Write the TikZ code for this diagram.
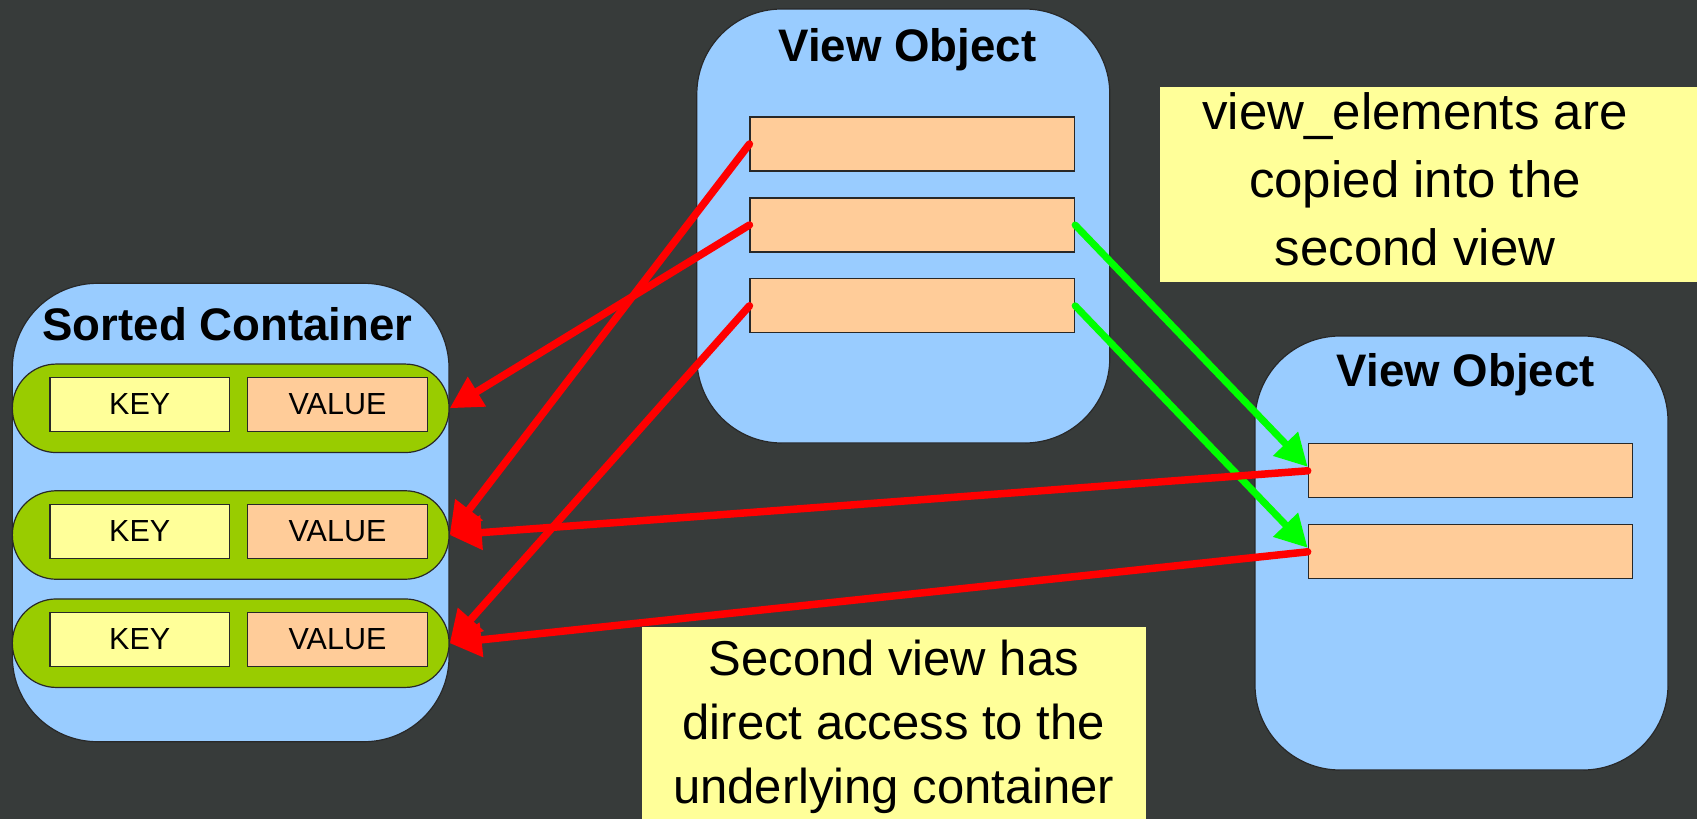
\documentclass[tikz,border=0pt]{standalone}
\usepackage{fontspec}
\setmainfont{Liberation Sans}
\usetikzlibrary{arrows.meta}

\definecolor{board}{RGB}{55,59,58}
\definecolor{panel}{RGB}{153,204,255}
\definecolor{slot}{RGB}{255,204,153}
\definecolor{note}{RGB}{255,255,153}
\definecolor{pill}{RGB}{153,204,0}
\definecolor{edge}{RGB}{40,40,40}
\definecolor{linkred}{RGB}{255,0,0}
\definecolor{linkgreen}{RGB}{0,255,0}

\tikzset{
  panelbox/.style={draw=edge, line width=1.2pt, fill=panel, rounded corners=85pt,
    minimum width=413pt, minimum height=434pt, inner sep=0pt},
  entrypill/.style={draw=edge, line width=1.2pt, fill=pill, rounded corners=44pt,
    minimum width=436.7pt, minimum height=88.5pt, inner sep=0pt},
  keybox/.style={draw=edge, line width=1.2pt, fill=note, minimum width=179.5pt,
    minimum height=54pt, inner sep=0pt, font=\fontsize{30.5}{34}\selectfont},
  valbox/.style={keybox, fill=slot},
  slotbar/.style={draw=edge, line width=1.2pt, fill=slot, minimum width=324.5pt,
    minimum height=54pt, inner sep=0pt},
  paneltitle/.style={anchor=base, inner sep=0pt, font=\fontsize{45.6}{50}\selectfont\bfseries},
  notetext/.style={align=center, inner sep=0pt, anchor=base},
  refarrow/.style={draw=linkred, line width=7.5pt, line cap=round,
    -{Triangle[length=32pt,width=33pt]}},
  copyarrow/.style={draw=linkgreen, line width=7pt, line cap=round,
    -{Triangle[length=32pt,width=33pt]}},
}

\begin{document}
\begin{tikzpicture}[x=1pt,y=-1pt]
  % chalkboard background
  \fill[board] (0,0) rectangle (1697,819);
  \useasboundingbox (0,0) rectangle (1697,819);

  % sorted container with three key/value entries
  \node[panelbox, minimum width=436.7pt, minimum height=458.4pt] (sc) at (230.7,512.5) {};
  \node[paneltitle] (sct) at (227.5,340) {Sorted Container};
  \node[entrypill] (p1) at (230.7,408.3) {};
  \node[entrypill] (p2) at (230.7,535) {};
  \node[entrypill] (p3) at (230.7,643.2) {};
  \node[keybox] (k1) at (139.7,404.3) {KEY};
  \node[valbox] (v1) at (337.5,404.3) {VALUE};
  \node[keybox] (k2) at (139.7,531.3) {KEY};
  \node[valbox] (v2) at (337.5,531.3) {VALUE};
  \node[keybox] (k3) at (139.7,639.3) {KEY};
  \node[valbox] (v3) at (337.5,639.3) {VALUE};

  % first view object
  \node[panelbox] (va) at (903.3,226) {};
  \node[paneltitle] (vat) at (907.5,61.7) {View Object};
  \node[slotbar] (a1) at (912.3,144) {};
  \node[slotbar] (a2) at (912.3,225) {};
  \node[slotbar] (a3) at (912.3,305.8) {};

  % second view object
  \node[panelbox] (vb) at (1461.5,553) {};
  \node[paneltitle] (vbt) at (1465.8,386.7) {View Object};
  \node[slotbar] (b1) at (1470.5,470.8) {};
  \node[slotbar] (b2) at (1470.5,551.8) {};

  % notes (the base anchor sits on the last line)
  \fill[note] (1160,87.3) rectangle (1697,281.7);
  \node[notetext, font=\fontsize{51}{68}\selectfont] (n1) at (1415,265)
    {view\_elements are\\copied into the\\second view};
  \fill[note] (641.7,626.7) rectangle (1146,819);
  \node[notetext, font=\fontsize{49}{64}\selectfont] (n2) at (893.8,803)
    {Second view has\\direct access to the\\underlying container};

  % copies of the view elements
  \draw[copyarrow] (a2.east) -- ([yshift=4pt]b1.west);
  \draw[copyarrow] (a3.east) -- ([yshift=4pt]b2.west);

  % references into the sorted container
  \draw[refarrow] (a1.west) -- (p2.east);
  \draw[refarrow] (a2.west) -- (p1.east);
  \draw[refarrow] (a3.west) -- (p3.east);
  \draw[refarrow] (b1.west) -- (p2.east);
  \draw[refarrow] (b2.west) -- (p3.east);
\end{tikzpicture}
\end{document}
